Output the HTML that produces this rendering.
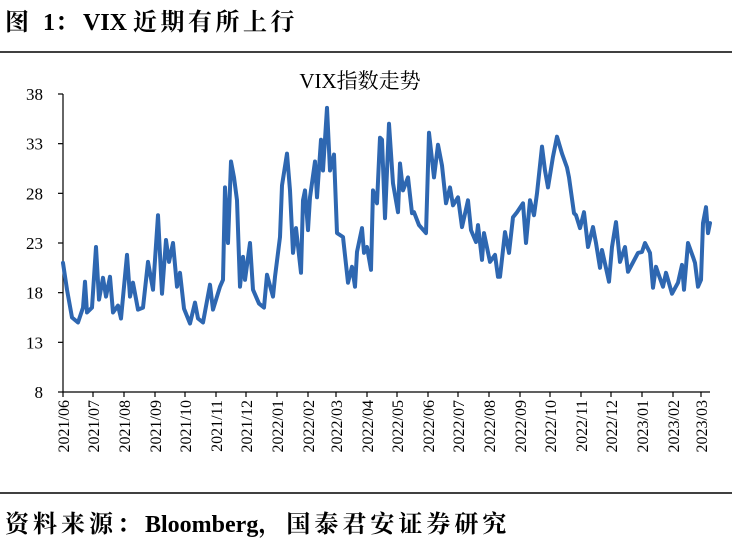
<!DOCTYPE html>
<html><head><meta charset="utf-8">
<style>
body{margin:0;background:#fff;width:732px;height:547px;overflow:hidden;font-family:"Liberation Serif","Noto Serif CJK SC",serif;}
</style></head>
<body>
<svg width="732" height="547" xmlns="http://www.w3.org/2000/svg">
<text x="5" y="30" font-size="24" font-weight="bold" font-family="Liberation Serif, Noto Serif CJK SC, serif"><tspan letter-spacing="4">图 </tspan>1<tspan letter-spacing="4">：</tspan>VIX <tspan letter-spacing="3.5">近期有所上行</tspan></text>
<line x1="0" y1="52" x2="732" y2="52" stroke="#000" stroke-width="1.5"/>
<text x="360" y="88" font-size="21" text-anchor="middle" font-family="Liberation Serif, Noto Serif CJK SC, serif">VIX指数走势</text>
<g id="axes"></g>
<g id="plot"></g>
<line x1="0" y1="493" x2="732" y2="493" stroke="#000" stroke-width="1.5"/>
<text x="5" y="532" font-size="24" font-weight="bold" font-family="Liberation Serif, Noto Serif CJK SC, serif"><tspan letter-spacing="4">资料来源：</tspan>Bloomberg<tspan letter-spacing="4">，国泰君安证券研究</tspan></text>
</svg>
<script>
const days=[0,4,9,15,20,22,24,29,33,36,40,43,47,50,55,58,64,67,70,75,80,85,90,95,99,103,106,110,114,117,121,127,132,135,140,147,150,157,160,162,165,168,171,174,177,180,182,187,190,196,201,204,210,212,217,219,224,227,230,233,238,240,242,245,247,252,254,258,260,264,267,271,274,280,285,289,292,294,299,301,304,308,310,314,317,319,322,326,330,335,337,340,345,349,351,356,363,366,371,375,379,383,387,390,395,399,405,408,413,415,419,421,427,432,435,437,442,446,450,454,460,463,467,471,474,479,482,485,490,494,499,504,506,511,513,517,521,525,530,533,537,539,546,549,553,557,562,565,575,579,582,587,590,593,595,600,603,609,615,619,621,625,630,632,635,638,640,643,645,647];
const vix=[21.0,18.3,15.5,15.0,16.5,19.1,16.0,16.5,22.6,17.3,19.5,17.6,19.6,16.0,16.7,15.4,21.8,17.6,19.0,16.3,16.5,21.1,18.3,25.8,17.9,23.3,21.1,23.0,18.6,20.0,16.4,14.9,17.0,15.4,15.0,18.8,16.3,18.6,19.3,28.6,23.0,31.2,29.6,27.3,18.6,21.6,19.3,23.0,18.3,16.9,16.5,19.8,17.6,19.6,23.6,28.8,32.0,28.3,22.0,24.5,20.0,27.3,28.3,24.3,27.6,31.2,27.6,33.4,30.3,36.6,30.3,31.9,24.0,23.6,19.0,20.6,18.6,22.1,24.5,22.0,22.6,20.3,28.3,27.0,33.6,33.4,25.5,35.0,29.0,26.1,31.0,28.3,29.6,26.0,26.1,24.8,24.0,34.1,29.6,32.9,30.8,27.0,28.6,26.8,27.6,24.6,27.3,24.3,23.1,24.8,21.3,24.0,21.1,21.8,19.6,19.6,24.1,22.0,25.6,26.1,27.0,23.0,27.3,25.8,28.0,32.7,30.3,28.6,31.7,33.7,32.0,30.6,29.6,26.0,25.8,24.5,26.1,22.6,24.6,23.0,20.5,22.3,19.1,22.6,25.1,21.1,22.6,20.1,22.0,22.1,23.0,22.0,18.5,20.6,20.0,18.6,20.0,17.9,19.0,20.8,18.3,23.0,21.6,21.0,18.6,19.3,25.0,26.6,24.0,25.0,21.5,22.6,22.0];
const yTicks=[8,13,18,23,28,33,38];
const months=["2021/06","2021/07","2021/08","2021/09","2021/10","2021/11","2021/12","2022/01","2022/02","2022/03","2022/04","2022/05","2022/06","2022/07","2022/08","2022/09","2022/10","2022/11","2022/12","2023/01","2023/02","2023/03"];
const NS="http://www.w3.org/2000/svg";
const X0=63,X1=710,Y0=392,Y1=94;
const start=Date.UTC(2021,5,1), spanDays=647;
function xs(d){return X0+d*(X1-X0)/spanDays;}
function ys(v){return Y0-(v-8)*(Y0-Y1)/30;}
function monthDay(m){const [y,mo]=m.split('/').map(Number);return (Date.UTC(y,mo-1,1)-start)/864e5;}
const axes=document.getElementById('axes'),plot=document.getElementById('plot');
function mk(tag,attrs,parent){const e=document.createElementNS(NS,tag);for(const k in attrs)e.setAttribute(k,attrs[k]);parent.appendChild(e);return e;}
let a=mk('line',{x1:X0,y1:Y1,x2:X0,y2:Y0,stroke:'#000','stroke-width':1.2},axes);


a=mk('line',{x1:X0,y1:Y0,x2:X1,y2:Y0,stroke:'#000','stroke-width':1.2},axes);


yTicks.forEach(v=>{const y=ys(v);
 const t=mk('line',{x1:X0-5,y1:y,x2:X0,y2:y,stroke:'#000','stroke-width':1.2},axes);
 
 
 const l=mk('text',{x:43,y:y+6,'font-size':17,'text-anchor':'end'},axes);l.textContent=v;
 
 
});
months.forEach(m=>{const x=xs(monthDay(m));
 const t=mk('line',{x1:x,y1:Y0,x2:x,y2:Y0+5,stroke:'#000','stroke-width':1.2},axes);
 
 
 const l=mk('text',{x:0,y:0,'font-size':16,'text-anchor':'end',transform:`translate(${x+6},${Y0+8}) rotate(-90)`},axes);l.textContent=m;
 
 
});
const pts=days.map((d,i)=>xs(d).toFixed(1)+','+ys(vix[i]).toFixed(1)).join(' ');
const pl=mk('polyline',{points:pts,fill:'none',stroke:'#2e67b1','stroke-width':4,'stroke-linejoin':'round','stroke-linecap':'round'},plot);


</script>
</body></html>
